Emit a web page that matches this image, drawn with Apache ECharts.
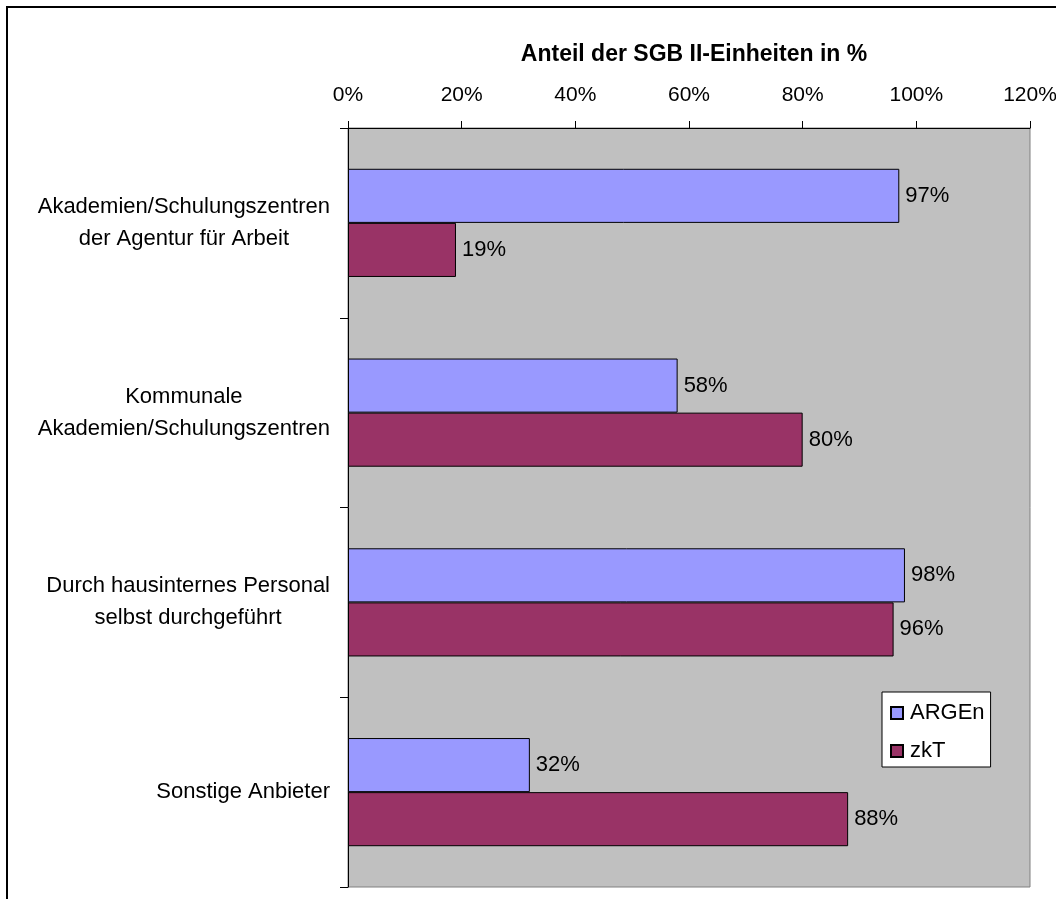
<!DOCTYPE html>
<html><head><meta charset="utf-8">
<script src="https://cdn.jsdelivr.net/npm/echarts@6/dist/echarts.min.js"></script>
<style>html,body{margin:0;padding:0;background:#fff}#c{width:1056px;height:899px}</style>
</head><body><div id="c"></div>
<script>
const categories = ['Akademien/Schulungszentren\nder Agentur für Arbeit', 'Kommunale\nAkademien/Schulungszentren', 'Durch hausinternes Personal\nselbst durchgeführt', 'Sonstige Anbieter'];
const argenValues = [97, 58, 98, 32];
const zktValues = [19, 80, 96, 88];
const seriesNames = ['ARGEn', 'zkT'];
const axisTitle = 'Anteil der SGB II-Einheiten in %';

const chart = echarts.init(document.getElementById('c'));
const font = 'Liberation Sans, Arial, sans-serif';
const labelFont = {fontSize: 22, color: '#000', fontFamily: font};
chart.setOption({
  animation: false,
  backgroundColor: '#fff',
  textStyle: {fontFamily: font},
  graphic: [{type:'rect', shape:{x:7,y:7,width:1060,height:900}, style:{fill:'none', stroke:'#000', lineWidth:2}, z:100}],
  grid: {left: 348, right: 26, top: 128, bottom: 12, outerBoundsMode: 'none', containLabel: false,
         show: true, backgroundColor: '#C0C0C0', borderColor: '#808080', borderWidth: 1},
  legend: {
    data: seriesNames, orient: 'vertical', left: 882, top: 692,
    padding: [10, 6, 5, 8], itemGap: 16, itemWidth: 12, itemHeight: 12,
    backgroundColor: '#fff', borderColor: '#000', borderWidth: 1,
    textStyle: {fontSize: 22, color: '#000', fontFamily: font, padding: [0, 0, 0, 2]},
    icon: 'rect'
  },
  xAxis: {
    type: 'value', position: 'top', min: 0, max: 120, interval: 20,
    name: axisTitle, nameLocation: 'middle', nameGap: 62,
    nameTextStyle: {fontSize: 23, fontWeight: 'bold', color: '#000', fontFamily: font, padding: [0, 0, 0, 10]},
    axisLine: {show: true, lineStyle: {color: '#000'}},
    axisTick: {show: true, length: 7, lineStyle: {color: '#000'}},
    axisLabel: {formatter: '{value}%', fontSize: 21, color: '#000', margin: 22, fontFamily: font},
    splitLine: {show: false}
  },
  yAxis: {
    type: 'category', data: categories, inverse: true,
    axisLine: {show: true, lineStyle: {color: '#000'}},
    axisTick: {show: true, length: 8, lineStyle: {color: '#000'}},
    axisLabel: {
      margin: 18, align: 'right',
      formatter: v => v.split('\n').map(s => '{c|' + s + '}').join('\n'),
      rich: {c: {align: 'center', fontSize: 22, lineHeight: 32, color: '#000', fontFamily: font}}
    }
  },
  series: [
    {name: seriesNames[0], type: 'bar', data: argenValues, barGap: '0%', barCategoryGap: '43%',
     itemStyle: {color: '#9999FF', borderColor: '#000', borderWidth: 1},
     label: Object.assign({show: true, position: 'right', formatter: '{c}%', distance: 6}, labelFont)},
    {name: seriesNames[1], type: 'bar', data: zktValues, barGap: '0%', barCategoryGap: '43%',
     itemStyle: {color: '#993366', borderColor: '#000', borderWidth: 1},
     label: Object.assign({show: true, position: 'right', formatter: '{c}%', distance: 6}, labelFont)}
  ]
});
</script></body></html>
